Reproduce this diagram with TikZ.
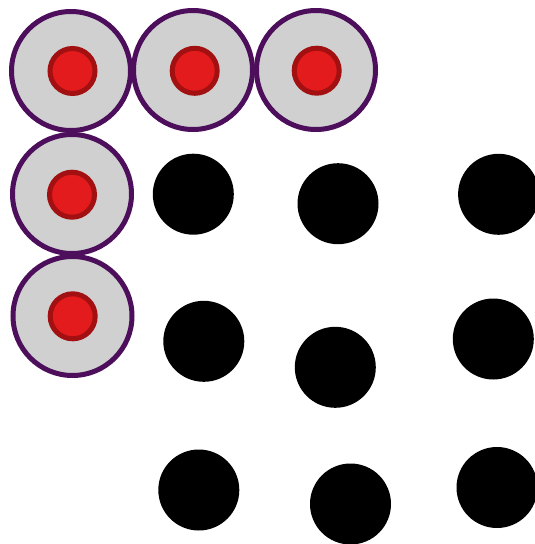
\documentclass[tikz,border=0pt]{standalone}
\begin{document}
\begin{tikzpicture}[x=1pt,y=-1pt,
  outer/.style={circle,draw=purpleedge,fill=greyfill,line width=5pt,minimum size=119pt,inner sep=0pt},
  inner/.style={circle,draw=rededge,fill=redfill,line width=5pt,minimum size=45pt,inner sep=0pt},
  dot/.style={circle,fill=black,minimum size=81pt,inner sep=0pt}]
\definecolor{purpleedge}{HTML}{4D0E5C}
\definecolor{greyfill}{HTML}{D0D0D0}
\definecolor{rededge}{HTML}{A31011}
\definecolor{redfill}{HTML}{E31B1C}
\useasboundingbox (0,0) rectangle (535,544);
% grey circles
\node[outer] (g1) at (71,71) {};
\node[outer] (g2) at (193,70) {};
\node[outer] (g3) at (316,70) {};
\node[outer] (g4) at (72,194) {};
\node[outer] (g5) at (72.5,316) {};
\node[inner] (r1) at (72.5,71) {};
\node[inner] (r2) at (194.7,70.8) {};
\node[inner] (r3) at (316.7,70.7) {};
\node[inner] (r4) at (72,194.7) {};
\node[inner] (r5) at (72.7,316.3) {};
% black dots
\node[dot] (b1) at (193.3,194.2) {};
\node[dot] (b2) at (338,203.7) {};
\node[dot] (b3) at (498.6,194.3) {};
\node[dot] (b4) at (203.8,341.3) {};
\node[dot] (b5) at (335.3,367.3) {};
\node[dot] (b6) at (493.3,339) {};
\node[dot] (b7) at (198.8,490) {};
\node[dot] (b8) at (350.5,504) {};
\node[dot] (b9) at (497,487.5) {};
\end{tikzpicture}
\end{document}
